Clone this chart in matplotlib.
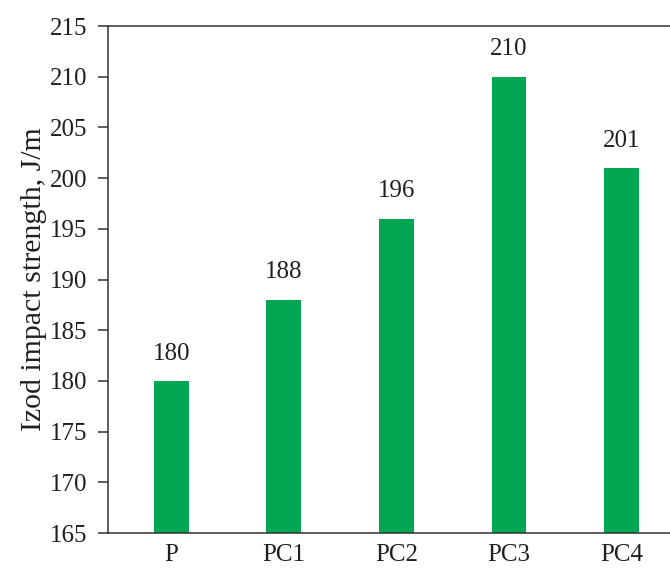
import matplotlib
matplotlib.use('agg')
from matplotlib import pyplot as plt

samples = ['P', 'PC1', 'PC2', 'PC3', 'PC4']
izod = [180, 188, 196, 210, 201]
yticks = [165, 170, 175, 180, 185, 190, 195, 200, 205, 210, 215]

plt.rcParams['font.family'] = ['Liberation Serif', 'DejaVu Serif']

fig = plt.figure(figsize=(6.7, 5.72), dpi=100)
ax = fig.add_axes([0.161, 0.068, 0.839, 0.8865])

x = range(len(samples))
ax.bar(x, [v - 165 for v in izod], bottom=165, width=0.31, color='#00a651')

for i, v in zip(x, izod):
    ax.text(i, v + 2.7, str(v), ha='center', va='center', fontsize=18, color='#231f20')

ax.set_xlim(-0.564, 4.431)
ax.set_ylim(165, 215)
ax.set_yticks(yticks)
ax.set_xticks(list(x))
ax.set_xticklabels(samples)
ax.set_ylabel('Izod impact strength, J/m', fontsize=21.5, color='#231f20', labelpad=2)

ax.spines['right'].set_visible(False)
for side in ('left', 'bottom', 'top'):
    ax.spines[side].set_color('#333333')
    ax.spines[side].set_linewidth(1.1)

ax.tick_params(axis='y', direction='out', length=7, width=1.1, color='#333333',
               labelsize=18, labelcolor='#231f20', pad=8)
ax.tick_params(axis='x', length=0, labelsize=18, labelcolor='#231f20', pad=8)

fig.savefig('out.png', dpi=100)
